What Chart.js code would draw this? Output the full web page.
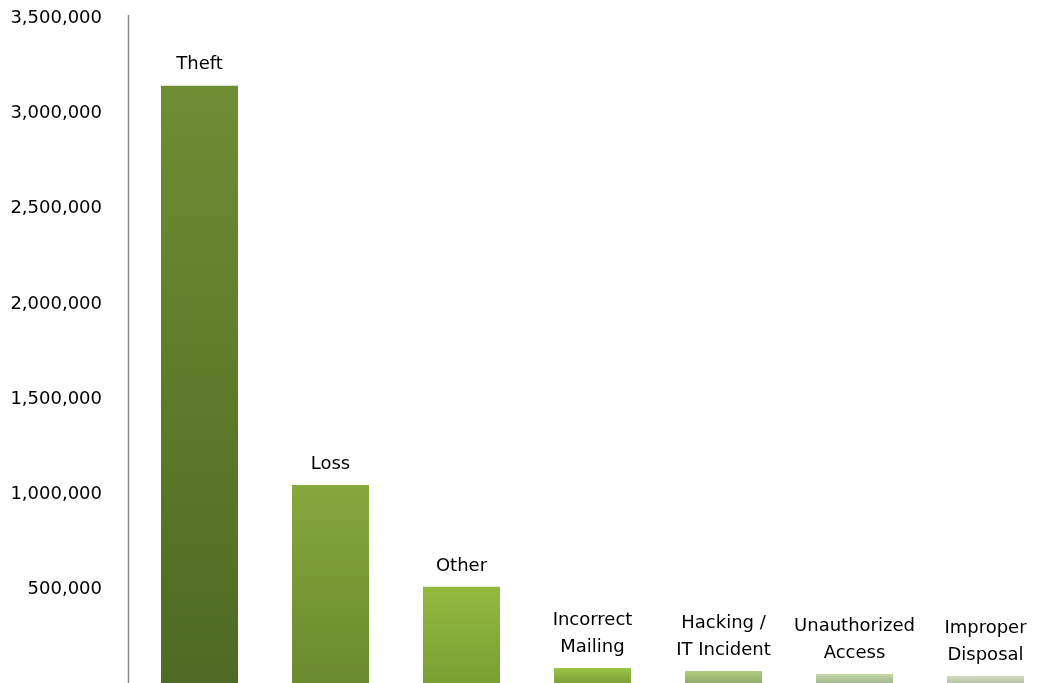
<!DOCTYPE html>
<html>
<head>
<meta charset="utf-8">
<script src="https://cdn.jsdelivr.net/npm/chart.js@4.4.1/dist/chart.umd.min.js"></script>
<style>
  html, body { margin: 0; padding: 0; background: #ffffff; overflow: hidden; }
  #wrap { position: relative; width: 1052px; height: 685px; }
</style>
</head>
<body>
<div id="wrap"><canvas id="c"></canvas></div>
<script>
const categories = [
  ["Theft"],
  ["Loss"],
  ["Other"],
  ["Incorrect", "Mailing"],
  ["Hacking /", "IT Incident"],
  ["Unauthorized", "Access"],
  ["Improper", "Disposal"]
];
const records = [3145000, 1050000, 515000, 89000, 74000, 58000, 47000];
const yTicks = [500000, 1000000, 1500000, 2000000, 2500000, 3000000, 3500000];

const topColors = ["#6f8d33", "#86a83c", "#93b940", "#9cc44a", "#b0cc80", "#c6d8a8", "#d0dcc0"];
const bottomColors = ["#4e6a24", "#6a8a2e", "#78a032", "#7a9c34", "#8ea868", "#9cb088", "#b0bca0"];

const FONT = "'DejaVu Sans', sans-serif";

const axisLine = {
  id: 'axisLine',
  afterDatasetsDraw(chart) {
    const ctx = chart.ctx;
    ctx.save();
    ctx.strokeStyle = '#8a8a8a';
    ctx.lineWidth = 1.5;
    ctx.beginPath();
    ctx.moveTo(128.5, 15);
    ctx.lineTo(128.5, chart.height);
    ctx.stroke();
    ctx.restore();
  }
};

const barLabels = {
  id: 'barLabels',
  afterDatasetsDraw(chart) {
    const ctx = chart.ctx;
    const meta = chart.getDatasetMeta(0);
    ctx.save();
    ctx.font = "18px " + FONT;
    ctx.fillStyle = '#000000';
    ctx.textAlign = 'center';
    ctx.textBaseline = 'middle';
    meta.data.forEach((bar, i) => {
      const lines = chart.data.labels[i];
      const n = lines.length;
      lines.forEach((t, j) => {
        ctx.fillText(t, bar.x, bar.y - 21 - (n - 1 - j) * 26.5);
      });
    });
    ctx.restore();
  }
};

new Chart(document.getElementById('c'), {
  type: 'bar',
  data: {
    labels: categories,
    datasets: [{
      data: records,
      borderWidth: 0,
      backgroundColor: (context) => {
        const chart = context.chart;
        const i = context.dataIndex;
        const ys = chart.scales && chart.scales.y;
        if (!ys || i === undefined || !chart.chartArea) return topColors[i || 0];
        const top = ys.getPixelForValue(context.dataset.data[i]);
        const bottom = ys.getPixelForValue(0);
        const g = chart.ctx.createLinearGradient(0, top, 0, bottom);
        g.addColorStop(0, topColors[i]);
        g.addColorStop(1, bottomColors[i]);
        return g;
      }
    }]
  },
  options: {
    responsive: true,
    maintainAspectRatio: false,
    animation: false,
    devicePixelRatio: 1,
    layout: { padding: { top: 18, right: 1, bottom: 0, left: 0 } },
    categoryPercentage: 1.0,
    barPercentage: 0.588,
    plugins: { legend: { display: false }, tooltip: { enabled: false } },
    scales: {
      x: {
        display: false,
        offset: true,
        grid: { display: false }
      },
      y: {
        min: 0,
        max: 3500000,
        afterFit: (scale) => {
          scale.width = 134;
          scale.paddingTop = 0;
          scale.paddingBottom = 0;
        },
        border: { display: false },
        grid: { display: false, drawTicks: false },
        afterBuildTicks: (scale) => {
          scale.ticks = [0].concat(yTicks).map(v => ({ value: v }));
        },
        ticks: {
          padding: 32,
          color: '#000000',
          font: { family: FONT, size: 18 },
          callback: (v) => v === 0 ? '' : v.toLocaleString('en-US')
        }
      }
    }
  },
  plugins: [axisLine, barLabels]
});
</script>
</body>
</html>
